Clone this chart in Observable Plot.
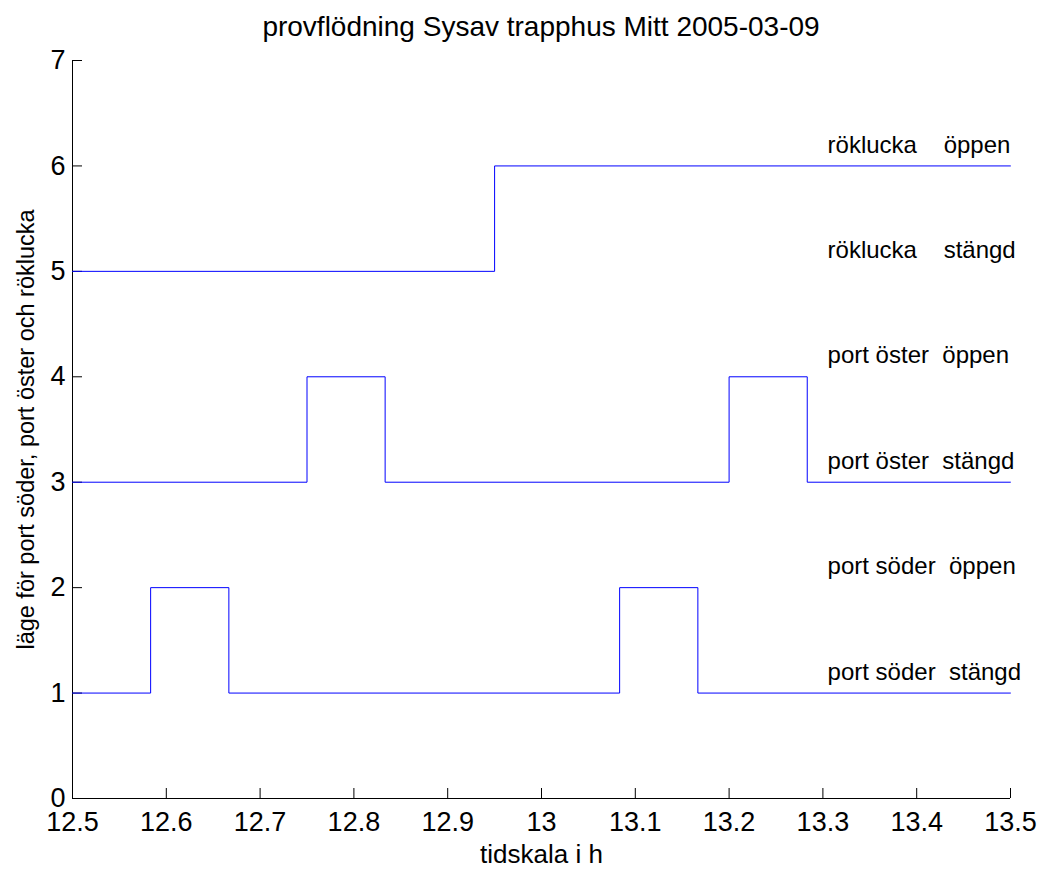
<!DOCTYPE html>
<html>
<head>
<meta charset="utf-8">
<script src="https://cdn.jsdelivr.net/npm/d3@7"></script>
<script src="https://cdn.jsdelivr.net/npm/@observablehq/plot@0.6"></script>
<style>
  html, body { margin: 0; padding: 0; background: #fff; }
  #wrap { width: 1040px; height: 869px; position: relative; font-family: "Liberation Sans", Arial, sans-serif; }
  #title { position: absolute; z-index: 2; left: 72px; width: 938px; top: 0; height: 40px; line-height: 54px; text-align: center; font-size: 28px; color: #000; white-space: nowrap; }
  #chart { position: absolute; z-index: 1; left: 0; top: 40px; }
  svg text { white-space: pre; }
</style>
</head>
<body>
<div id="wrap">
  <div id="title"></div>
  <div id="chart"></div>
</div>
<script>
const titleText = "provflödning Sysav trapphus Mitt 2005-03-09";
const xLabel = "tidskala i h";
const yLabel = "läge för port söder, port öster och röklucka";

// port söder (1 = stängd, 2 = öppen)
const soderTime = [12.5, 12.5833, 12.6667, 13.0833, 13.1667, 13.5];
const soderValue = [1, 2, 1, 2, 1, 1];
// port öster (3 = stängd, 4 = öppen)
const osterTime = [12.5, 12.75, 12.8333, 13.2, 13.2833, 13.5];
const osterValue = [3, 4, 3, 4, 3, 3];
// röklucka (5 = stängd, 6 = öppen)
const rokTime = [12.5, 12.95, 13.5];
const rokValue = [5, 6, 6];

const stateLabels = [
  "port söder  stängd", "port söder  öppen",
  "port öster  stängd", "port öster  öppen",
  "röklucka    stängd", "röklucka    öppen"
];
const stateLabelY = [1.2, 2.2, 3.2, 4.2, 5.2, 6.2];
const stateLabelX = 13.305;

const xTicks = [12.5, 12.6, 12.7, 12.8, 12.9, 13, 13.1, 13.2, 13.3, 13.4, 13.5];
const xTickLabels = ["12.5", "12.6", "12.7", "12.8", "12.9", "13", "13.1", "13.2", "13.3", "13.4", "13.5"];
const yTicks = [0, 1, 2, 3, 4, 5, 6, 7];

const toRows = (t, v, s) => t.map((d, i) => ({time: d, value: v[i], series: s}));
const rows = [
  ...toRows(soderTime, soderValue, "soder"),
  ...toRows(osterTime, osterValue, "oster"),
  ...toRows(rokTime, rokValue, "rok")
];
const labelRows = stateLabels.map((s, i) => ({text: s, x: stateLabelX, y: stateLabelY[i]}));

document.getElementById("title").textContent = titleText;

const plot = Plot.plot({
  width: 1040,
  height: 829,
  marginLeft: 72,
  marginRight: 30,
  marginTop: 20,
  marginBottom: 71,
  style: {fontFamily: "'Liberation Sans', Arial, sans-serif", background: "transparent", color: "#000"},
  x: {domain: [12.5, 13.5]},
  y: {domain: [0, 7]},
  marks: [
    Plot.ruleY([0], {stroke: "#000", strokeWidth: 1}),
    Plot.ruleX([12.5], {stroke: "#000", strokeWidth: 1}),
    Plot.axisX({
      ticks: xTicks,
      tickFormat: (d) => xTickLabels[xTicks.indexOf(d)],
      tickSize: -10,
      tickPadding: 23,
      fontSize: 27,
      label: null
    }),
    Plot.axisY({
      ticks: yTicks,
      tickFormat: (d) => String(d),
      tickSize: -10,
      tickPadding: 17,
      fontSize: 27,
      label: null
    }),
    Plot.line(rows, {x: "time", y: "value", z: "series", curve: "step-after", stroke: "#0000ff", strokeWidth: 1}),
    Plot.text(labelRows, {x: "x", y: "y", text: "text", textAnchor: "start", fontSize: 24, fill: "#000"}),
    Plot.text([xLabel], {frameAnchor: "bottom", dy: 64, fontSize: 26, fill: "#000"}),
    Plot.text([yLabel], {frameAnchor: "left", dx: -46, rotate: -90, textAnchor: "middle", fontSize: 23.5, fill: "#000"})
  ]
});
document.getElementById("chart").appendChild(plot);
</script>
</body>
</html>
